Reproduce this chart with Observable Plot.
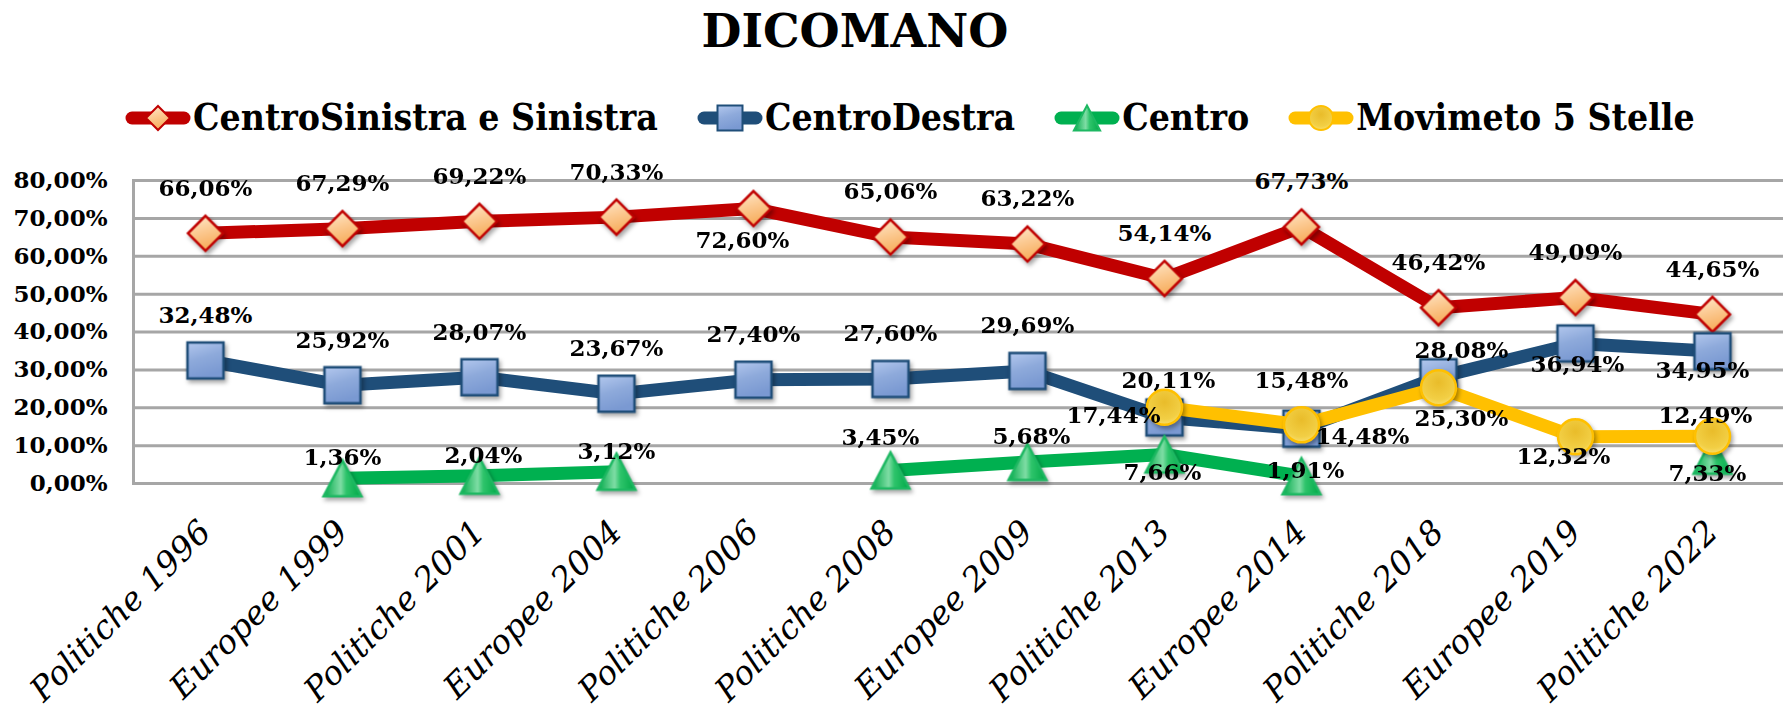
<!DOCTYPE html>
<html><head><meta charset="utf-8">
<script src="https://cdn.jsdelivr.net/npm/d3@7"></script>
<script src="https://cdn.jsdelivr.net/npm/@observablehq/plot@0.6"></script>
<style>
body{margin:0;background:#fff;}
#wrap{position:relative;width:1783px;height:709px;overflow:hidden;background:#fff;font-family:"DejaVu Serif",serif;color:#000;}
#title{position:absolute;top:8px;left:0;width:1710px;text-align:center;font-size:46px;line-height:46px;font-weight:bold;}
#legend{position:absolute;top:99px;left:125px;display:flex;align-items:center;height:37px;font-size:37px;line-height:37px;font-weight:bold;font-stretch:condensed;white-space:nowrap;}
.item{display:flex;align-items:center;margin-right:39px;}
.item svg{margin-right:2px;overflow:visible;}
#chart{position:absolute;top:140px;left:0;}
.mk{filter:drop-shadow(2px 3px 2px rgba(0,0,0,0.35));}
</style></head>
<body>
<div id="wrap">
  <div id="title">DICOMANO</div>
  <div id="legend"></div>
  <div id="chart"></div>
</div>
<script>
// ---- data ----
const categories = ["Politiche 1996","Europee 1999","Politiche 2001","Europee 2004","Politiche 2006","Politiche 2008","Europee 2009","Politiche 2013","Europee 2014","Politiche 2018","Europee 2019","Politiche 2022"];
const seriesNames = ["CentroSinistra e Sinistra","CentroDestra","Centro","Movimeto 5 Stelle"];
const centroSinistra = [66.06,67.29,69.22,70.33,72.60,65.06,63.22,54.14,67.73,46.42,49.09,44.65];
const centroDestra = [32.48,25.92,28.07,23.67,27.40,27.60,29.69,17.44,14.48,28.08,36.94,34.95];
const centro = [null,1.36,2.04,3.12,null,3.45,5.68,7.66,1.91,null,null,7.33];
const m5s = [null,null,null,null,null,null,null,20.11,15.48,25.30,12.32,12.49];
const yTicks = [0,10,20,30,40,50,60,70,80];
const yTickLabels = ["0,00%","10,00%","20,00%","30,00%","40,00%","50,00%","60,00%","70,00%","80,00%"];

// ---- styling (label placement per point: [dx, dy, anchor]) ----
const A = [0,-45,"middle"];
const labelPlace = [
  [A,A,A,A,[-11,32,"middle"],A,A,A,A,A,A,A],
  [A,A,A,A,A,A,A,[-4,-2,"end"],[14,8,"start"],[23,-27,"middle"],[2,21,"middle"],[-10,19,"middle"]],
  [null,[0,-21,"middle"],[4,-20,"middle"],[0,-20,"middle"],null,[-10,-33,"middle"],[4,-25,"middle"],[-2,18,"middle"],[4,-6,"middle"],null,null,[-5,18,"middle"]],
  [null,null,null,null,null,null,null,[4,-27,"middle"],[0,-44,"middle"],[23,31,"middle"],[-12,20,"middle"],[-7,-21,"middle"]]
];

const diaSym = {draw(ctx,size){const r=Math.sqrt(size/Math.PI);ctx.moveTo(0,-r);ctx.lineTo(r,0);ctx.lineTo(0,r);ctx.lineTo(-r,0);ctx.closePath();}};
const sqSym = {draw(ctx,size){const r=Math.sqrt(size/Math.PI);ctx.rect(-r,-r,2*r,2*r);}};
const triSym = {draw(ctx,size){const r=Math.sqrt(size/Math.PI);ctx.moveTo(0,-r);ctx.lineTo(r*1.05,r);ctx.lineTo(-r*1.05,r);ctx.closePath();}};
const cirSym = d3.symbolCircle;

const styles = [
  {line:"#C00000", sym:diaSym, r:17.5, fill:"url(#gD)", stroke:"#C00000", lr:12},
  {line:"#1F4E79", sym:sqSym, r:18, fill:"url(#gS)", stroke:"#1F4E79", lr:12.5},
  {line:"#00B050", sym:triSym, r:18, fill:"url(#gT)", stroke:"#1DB862", lr:12.5},
  {line:"#FFC000", sym:cirSym, r:17.5, fill:"url(#gC)", stroke:"#FFC000", lr:12}
];
const allValues = [centroSinistra, centroDestra, centro, m5s];
const fmt = v => v.toFixed(2).replace(".", ",") + "%";

const defsHTML = `
<linearGradient id="gD" x1="0" y1="0" x2="0.3" y2="1"><stop offset="0" stop-color="#FFEBD2"/><stop offset="0.5" stop-color="#FCCB94"/><stop offset="1" stop-color="#F7AE5E"/></linearGradient>
<linearGradient id="gS" x1="0" y1="0" x2="0.3" y2="1"><stop offset="0" stop-color="#B3C8EE"/><stop offset="0.5" stop-color="#8EAADB"/><stop offset="1" stop-color="#7A99D2"/></linearGradient>
<linearGradient id="gT" x1="0" y1="0" x2="1" y2="0"><stop offset="0" stop-color="#00A847"/><stop offset="0.45" stop-color="#7FDDA5"/><stop offset="0.6" stop-color="#2EC46B"/><stop offset="1" stop-color="#00A847"/></linearGradient>
<radialGradient id="gC" cx="0.5" cy="0.35" r="0.7"><stop offset="0" stop-color="#E9BC2A"/><stop offset="0.7" stop-color="#F2CF45"/><stop offset="1" stop-color="#F9E27A"/></radialGradient>`;

// ---- legend ----
const legend = d3.select("#legend");
seriesNames.forEach((name, k) => {
  const st = styles[k];
  const it = legend.append("div").attr("class","item");
  const sv = it.append("svg").attr("width",66).attr("height",36);
  sv.append("defs").html(defsHTML.replace(/id="g(\w)"/g,'id="lg$1'+k+'"'));
  sv.append("line").attr("x1",7).attr("x2",59).attr("y1",18).attr("y2",18)
    .attr("stroke",st.line).attr("stroke-width",13).attr("stroke-linecap","round");
  const fid = st.fill.replace("url(#g","").replace(")","");
  sv.append("path").attr("transform","translate(33,18)")
    .attr("d", d3.symbol(st.sym, Math.PI*st.lr*st.lr)())
    .attr("fill", `url(#lg${fid}${k})`).attr("stroke", st.stroke).attr("stroke-width",2);
  it.append("span").text(name);
});

// ---- chart ----
const marks = [
  Plot.ruleY(yTicks, {stroke:"#A6A6A6", strokeWidth:3}),
  Plot.frame({anchor:"left", stroke:"#A6A6A6", strokeWidth:3}),
  Plot.text(yTicks, {y:d=>d, text:(d,i)=>yTickLabels[i], frameAnchor:"left", dx:-26, textAnchor:"end", fontSize:23, fontWeight:"bold", fill:"#000"}),
  Plot.text(categories, {x:d=>d, text:d=>d, frameAnchor:"bottom", dy:43, rotate:-45, textAnchor:"end", lineAnchor:"middle", fontSize:33, fontStyle:"italic", fill:"#000"})
];
allValues.forEach((vals, k) => {
  const st = styles[k];
  const rows = categories.map((c,i)=>({cat:c, v:vals[i]}));
  marks.push(Plot.line(rows, {x:"cat", y:"v", stroke:st.line, strokeWidth:13, strokeLinejoin:"round", strokeLinecap:"butt"}));
  marks.push(Plot.dot(rows.filter(d=>d.v!=null), {x:"cat", y:"v", symbol:st.sym, r:st.r, fill:st.fill, stroke:st.stroke, strokeWidth:2.5, className:"mk"}));
});
allValues.forEach((vals, k) => {
  categories.forEach((c,i) => {
    if (vals[i] == null) return;
    const p = labelPlace[k][i];
    marks.push(Plot.text([{cat:c, v:vals[i]}], {x:"cat", y:"v", text:d=>fmt(d.v), dx:p[0], dy:p[1], textAnchor:p[2], fontSize:23, fontWeight:"bold", fill:"#000"}));
  });
});

const chart = Plot.plot({
  width:1783, height:569,
  marginLeft:133, marginRight:0, marginTop:40, marginBottom:226,
  x:{type:"point", domain:categories, padding:0.5, axis:null},
  y:{domain:[0,80], axis:null},
  style:{fontFamily:"DejaVu Serif", background:"transparent", overflow:"visible"},
  marks
});
d3.select(chart).insert("defs",":first-child").html(defsHTML);
document.getElementById("chart").appendChild(chart);
</script>
</body></html>
